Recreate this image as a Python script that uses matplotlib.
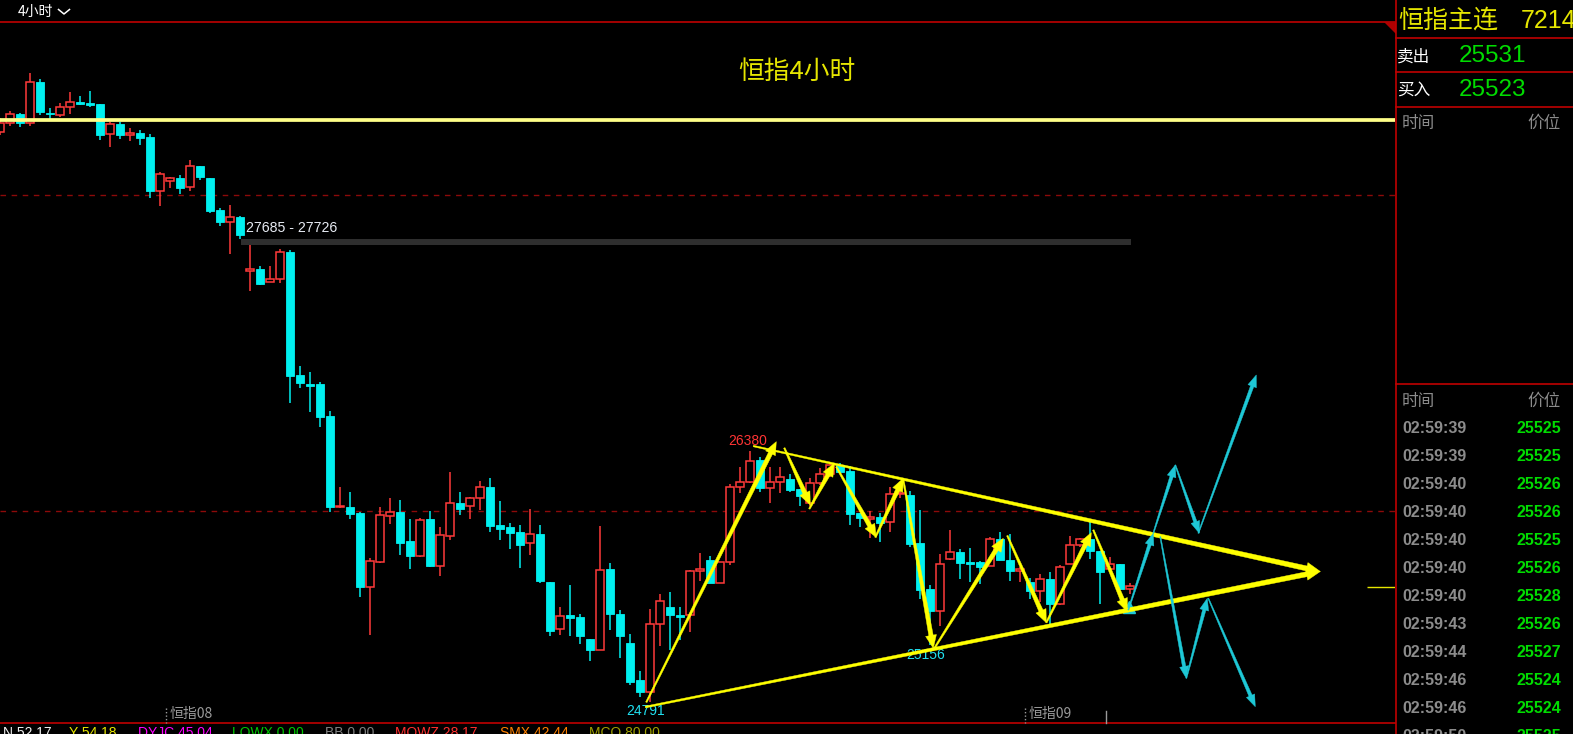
import numpy as np
import matplotlib
matplotlib.use("Agg")
import matplotlib.pyplot as plt
from matplotlib.patches import Rectangle, Polygon
from matplotlib.transforms import IdentityTransform
from matplotlib.lines import Line2D

plt.rcParams['font.family'] = ['Noto Sans CJK SC', 'DejaVu Sans']

# ---------------- 4-hour HSI futures candles ----------------
opens = [28402, 28456, 28514, 28456, 28715, 28521, 28508, 28557, 28590, 28584,
         28578, 28390, 28451, 28384, 28394, 28369, 28029, 28089, 28109, 28054,
         28185, 28109, 27907, 27833, 27863, 27523, 27534, 27453, 27468, 27639,
         26863, 26806, 26806, 26603, 26025, 26027, 25989, 25523, 25681, 25972,
         25996, 25812, 25719, 25951, 25656, 25842, 26051, 26035, 26082, 26154,
         25913, 25901, 25869, 25798, 25856, 25553, 25253, 25342, 25331, 25190,
         25124, 25635, 25350, 25164, 24932, 24858, 25285, 25394, 25344, 25342,
         25620, 25692, 25544, 25677, 26152, 26187, 26325, 26146, 26184, 26203,
         26139, 26051, 26177, 26234, 26293, 26255, 25987, 25951, 25962, 25930,
         26108, 26103, 25798, 25508, 25371, 25700, 25742, 25677, 25679, 25656,
         25825, 25692, 25624, 25553, 25497, 25572, 25413, 25665, 25785, 25823,
         25747, 25633, 25665, 25506]
highs = [28487, 28533, 28523, 28772, 28736, 28551, 28584, 28652, 28628, 28660,
         28578, 28466, 28466, 28424, 28413, 28388, 28147, 28118, 28128, 28223,
         28185, 28109, 27920, 27939, 27871, 27685, 27553, 27553, 27660, 27654,
         26920, 26880, 26816, 26635, 26154, 26122, 25998, 25704, 26027, 26084,
         26072, 25951, 25958, 26002, 25901, 26249, 26122, 26091, 26192, 26211,
         26065, 25926, 25913, 26015, 25913, 25553, 25394, 25534, 25350, 25190,
         25907, 25675, 25375, 25223, 24989, 25382, 25477, 25487, 25396, 25627,
         25734, 25717, 25677, 26173, 26279, 26380, 26346, 26279, 26279, 26234,
         26139, 26213, 26272, 26304, 26304, 26289, 25987, 26002, 25991, 26156,
         26135, 26128, 26008, 25534, 25728, 25882, 25761, 25768, 25685, 25837,
         25869, 25856, 25649, 25580, 25601, 25616, 25658, 25842, 25831, 25937,
         25747, 25709, 25665, 25544]
lows = [28382, 28440, 28434, 28440, 28508, 28483, 28496, 28514, 28571, 28561,
        28350, 28308, 28356, 28344, 28318, 27985, 27934, 28046, 28010, 28029,
        28097, 27890, 27806, 27628, 27726, 27396, 27432, 27453, 27447, 26687,
        26782, 26630, 26535, 25998, 26019, 25953, 25460, 25219, 25675, 25922,
        25725, 25635, 25713, 25649, 25592, 25820, 25978, 25953, 26010, 25871,
        25820, 25763, 25643, 25725, 25548, 25213, 25219, 25213, 25162, 25054,
        25124, 25249, 25073, 24902, 24827, 24791, 25149, 25122, 25185, 25234,
        25561, 25544, 25544, 25662, 26114, 26177, 26124, 26051, 26114, 26124,
        26035, 26035, 26166, 26219, 26251, 25913, 25903, 25829, 25808, 25871,
        26084, 25772, 25443, 25156, 25274, 25692, 25572, 25554, 25538, 25656,
        25692, 25561, 25554, 25447, 25428, 25280, 25407, 25665, 25776, 25698,
        25411, 25618, 25506, 25477]
closes = [28456, 28513, 28456, 28715, 28529, 28513, 28557, 28589, 28580, 28573,
          28382, 28451, 28382, 28394, 28363, 28027, 28133, 28108, 28046, 28184,
          28118, 27901, 27831, 27861, 27749, 27534, 27439, 27468, 27639, 26858,
          26814, 26795, 26599, 26029, 26034, 25985, 25523, 25685, 25975, 25994,
          25801, 25719, 25943, 25656, 25848, 26051, 26016, 26082, 26152, 25909,
          25890, 25865, 25789, 25854, 25561, 25244, 25335, 25327, 25213, 25124,
          25627, 25348, 25213, 24921, 24858, 25285, 25430, 25346, 25333, 25620,
          25633, 25544, 25677, 26152, 26187, 26320, 26149, 26187, 26215, 26135,
          26099, 26177, 26234, 26293, 26251, 25981, 25956, 25962, 25928, 26108,
          26118, 25793, 25502, 25371, 25665, 25741, 25675, 25666, 25648, 25825,
          25692, 25624, 25637, 25497, 25572, 25413, 25646, 25785, 25823, 25747,
          25614, 25665, 25506, 25525]

resistance_level = 28475
grid_levels = [26000, 28000]
gap_low, gap_high = 27685, 27726
gap_from, gap_to = 24, 113
last_price = 25523
swing_high = (75, 26380)
swing_low = (65, 24791)
pivot_low = (93, 25156)

# drawn analysis legs: (x0, price0, x1, price1)
yellow_legs = [(64.6, 24791, 77.6, 26441), (78.4, 26401, 81.0, 26040),
               (80.9, 26015, 83.4, 26304), (83.6, 26282, 87.6, 25835),
               (87.5, 25835, 90.3, 26209), (90.3, 26198, 93.3, 25133),
               (93.3, 25122, 100.3, 25829), (100.7, 25846, 104.6, 25295),
               (104.6, 25295, 109.1, 25865), (109.3, 25882, 112.7, 25365)]
wedge_upper = (75.3, 26413, 132.0, 25619)
wedge_lower = (64.5, 24761, 132.0, 25619)
cyan_legs = [(112.8, 25375, 115.3, 25861), (115.3, 25861, 117.5, 26293),
             (117.5, 26293, 119.9, 25861), (119.8, 25861, 125.6, 26863),
             (116.0, 25839, 118.6, 24943), (118.6, 24943, 120.7, 25449),
             (120.8, 25449, 125.5, 24763)]

# quote panel
panel_name = "恒指主连"
panel_code = "7214"
ask_label, ask_price = "卖出", "25531"
bid_label, bid_price = "买入", "25523"
tick_times = ["02:59:39", "02:59:39", "02:59:40", "02:59:40", "02:59:40", "02:59:40",
              "02:59:40", "02:59:43", "02:59:44", "02:59:46", "02:59:46", "02:59:50"]
tick_prices = ["25525", "25525", "25526", "25526", "25525", "25526",
               "25528", "25526", "25527", "25524", "25524", "25525"]

indicators = [("N 52.17", "#f0f0f0", 3), ("Y 54.18", "#e6e600", 69),
              ("DYJC 45.04", "#ff00ff", 138), ("LOWX 0.00", "#00c800", 232),
              ("BB 0.00", "#808080", 325), ("MOWZ 28.17", "#ff3030", 395),
              ("SMX 42.44", "#ff8000", 500), ("MCQ 80.00", "#a0a000", 589)]

# ---------------- figure ----------------
W, H = 1573, 734
fig = plt.figure(figsize=(W / 100, H / 100), dpi=100, facecolor='black')


def fx(px):
    return px / W


def fy(py):
    return 1 - py / H


FRAME = '#c00000'
ax = fig.add_axes([0, fy(723.3), fx(1395), (723.3 - 22.3) / H])
ax.set_facecolor('black')
ax.set_xlim(-0.03, 139.47)
ax.set_ylim(24658, 29095)
ax.set_xticks([])
ax.set_yticks([])
for s in ['left', 'right']:
    ax.spines[s].set_visible(False)
for s in ['top', 'bottom']:
    ax.spines[s].set_color(FRAME)
    ax.spines[s].set_linewidth(1.2)

for lvl in grid_levels:
    ax.axhline(lvl, color='#8c0a0a', lw=1, ls=(0, (4, 4)), zorder=1)

UP = '#ff3a3a'
DN = '#00f0f0'
bw = 0.82
for i, (o, h, l, c) in enumerate(zip(opens, highs, lows, closes)):
    if c >= o:
        ax.vlines(i, c, h, color=UP, lw=1.1, zorder=3)
        ax.vlines(i, l, o, color=UP, lw=1.1, zorder=3)
        ax.add_patch(Rectangle((i - bw / 2, o), bw, max(c - o, 7), facecolor='black',
                               edgecolor=UP, lw=1.1, zorder=3))
    else:
        ax.vlines(i, l, h, color=DN, lw=1.1, zorder=3)
        ax.add_patch(Rectangle((i - bw / 2, c), bw, max(o - c, 7), facecolor=DN,
                               edgecolor=DN, lw=0.6, zorder=3))

ax.axhline(resistance_level, color='#ffff88', lw=2.7, zorder=4)
ax.add_patch(Rectangle((gap_from + 0.07, gap_low), gap_to - gap_from, gap_high - gap_low,
                       facecolor='#2e2e2e', edgecolor='none', zorder=4))
ax.text(gap_from + 0.6, 27795, f"{gap_low} - {gap_high}", color='#e8ecf4',
        fontsize=10.2, family=['Liberation Sans'], va='center', ha='left', zorder=5)
ax.hlines(last_price, 136.7, 139.47, color='#e6e600', lw=1, zorder=4)

ax.text(swing_high[0] - 0.3, 26445, str(swing_high[1]), color='#ff3434', fontsize=10,
        family=['Liberation Sans'], ha='center', va='center', zorder=7)
ax.text(swing_low[0] - 0.5, 24736, str(swing_low[1]), color='#20e0f0', fontsize=10,
        family=['Liberation Sans'], ha='center', va='center', zorder=7)
ax.text(pivot_low[0] - 0.5, 25091, str(pivot_low[1]), color='#20e0f0', fontsize=10,
        family=['Liberation Sans'], ha='center', va='center', zorder=7)


def taper_arrow(x0, y0, x1, y1, w0, w1, color, hl=11, hw=9, z=6):
    (a, b), (c, d) = ax.transData.transform([(x0, y0), (x1, y1)])
    dx, dy = c - a, d - b
    L = np.hypot(dx, dy)
    ux, uy = dx / L, dy / L
    nx, ny = -uy, ux
    bx, by = c - ux * hl, d - uy * hl
    pts = [(a + nx * w0 / 2, b + ny * w0 / 2), (bx + nx * w1 / 2, by + ny * w1 / 2)]
    if hl > 0:
        pts += [(bx + nx * hw / 2, by + ny * hw / 2), (c, d), (bx - nx * hw / 2, by - ny * hw / 2)]
    pts += [(bx - nx * w1 / 2, by - ny * w1 / 2), (a - nx * w0 / 2, b - ny * w0 / 2)]
    poly = Polygon(pts, closed=True, transform=IdentityTransform(), facecolor=color,
                   edgecolor=color, lw=0.3, zorder=z)
    fig.add_artist(poly)


YEL = '#ffff00'
taper_arrow(*wedge_upper, 1.5, 5.0, YEL, hl=14, hw=12)
taper_arrow(*wedge_lower, 1.8, 5.0, YEL, hl=14, hw=12)
for leg in yellow_legs:
    taper_arrow(*leg, 1.5, 4.4, YEL, hl=13, hw=11)

CY = '#1ec8d6'
for leg in cyan_legs:
    taper_arrow(*leg, 1.0, 3.4, CY, hl=12, hw=9)
ax.plot([112.9], [25395], marker='^', ms=8, color=CY, mec=CY, zorder=6, ls='none')

# ---------------- frame pieces ----------------
fig.add_artist(Line2D([fx(1395.5)] * 2, [0, 1], color=FRAME, lw=1.2))
fig.add_artist(Polygon([(fx(1384), fy(22.3)), (fx(1395.5), fy(22.3)), (fx(1395.5), fy(34))],
                       closed=True, facecolor='#b00000', edgecolor='none'))
for yy in [38.3, 72.3, 106.7, 384.3]:
    fig.add_artist(Line2D([fx(1395.5), 1], [fy(yy)] * 2, color=FRAME, lw=1.2))

# top-left period selector
fig.text(fx(18), fy(12), "4小时", color='white', fontsize=10, va='center', ha='left')
fig.add_artist(Line2D([fx(58.5), fx(64), fx(69.5)], [fy(9.5), fy(14), fy(9.5)],
                      color='white', lw=1.1))

fig.text(fx(797), fy(72), "恒指4小时", color='#e6e600', fontsize=18.5, ha='center', va='center')

# time axis labels
for lab, xp in [("恒指08", 170), ("恒指09", 1029)]:
    fig.text(fx(xp), fy(714), lab, color='#9a9a9a', fontsize=10, ha='left', va='center')
    fig.add_artist(Line2D([fx(xp - 4)] * 2, [fy(708), fy(723)], color='#9a9a9a',
                          lw=1, ls=(0, (1, 1.5))))
fig.add_artist(Line2D([fx(1105.5)] * 2, [fy(711), fy(723)], color='#9a9a9a', lw=1))

# indicator strip (runs off the bottom edge)
for s, col, xp in indicators:
    fig.text(fx(xp), fy(737), s, color=col, fontsize=10, family=['Liberation Sans'],
             ha='left', va='baseline')

# ---------------- quote panel ----------------
fig.text(fx(1398), fy(21), panel_name, color='#e6e600', fontsize=18, ha='left', va='center')
fig.text(fx(1521), fy(21), panel_code, color='#e6e600', fontsize=18,
         family=['Liberation Sans'], ha='left', va='center')
fig.text(fx(1397), fy(57.5), ask_label, color='white', fontsize=12, ha='left', va='center')
fig.text(fx(1459), fy(55.5), ask_price, color='#00dc00', fontsize=17.5,
         family=['Liberation Sans'], ha='left', va='center')
fig.text(fx(1397), fy(91), bid_label, color='white', fontsize=12, ha='left', va='center')
fig.text(fx(1459), fy(89.5), bid_price, color='#00dc00', fontsize=17.5,
         family=['Liberation Sans'], ha='left', va='center')
for yy in [123.3, 401.7]:
    fig.text(fx(1402), fy(yy), "时间", color='#8c8c8c', fontsize=12, ha='left', va='center')
    fig.text(fx(1561), fy(yy), "价位", color='#8c8c8c', fontsize=12, ha='right', va='center')
for k, (t, p) in enumerate(zip(tick_times, tick_prices)):
    yy = 428.3 + 28 * k
    fig.text(fx(1402), fy(yy), t, color='#8c8c8c', fontsize=11.5, fontweight='bold',
             family=['Liberation Sans'], ha='left', va='center')
    fig.text(fx(1561), fy(yy), p, color='#00dc00', fontsize=11.5, fontweight='bold',
             family=['Liberation Sans'], ha='right', va='center')

fig.savefig("out.png", dpi=100, facecolor='black')
